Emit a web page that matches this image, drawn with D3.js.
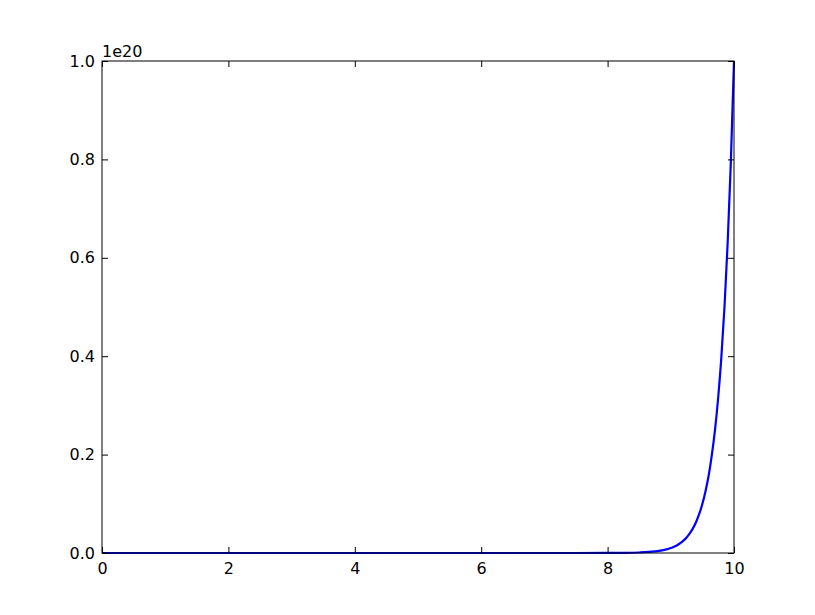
<!DOCTYPE html>
<html><head><meta charset="utf-8">
<script src="https://cdn.jsdelivr.net/npm/d3@7"></script>
<style>body{margin:0;background:#fff}svg{display:block}text{font-family:"DejaVu Sans",sans-serif;font-size:16px;fill:#000}</style>
</head><body>
<script>
// x values and y values (units of 1e20)
const xs = [0,1,2,3,4,5,6,7,8,8.25,8.5,8.75,8.9,9,9.05,9.1,9.15,9.2,9.25,9.3,9.35,9.4,9.45,9.5,9.55,9.6,9.65,9.7,9.75,9.8,9.85,9.9,9.95,10];
const ys = [0,0,0,0,0,0,0,0,0.0001,0.0003,0.001,0.0032,0.0063,0.01,0.0126,0.0158,0.02,0.0251,0.0316,0.0398,0.05,0.0631,0.0794,0.1,0.126,0.158,0.2,0.251,0.316,0.398,0.501,0.631,0.794,1.0];
const xTicks = [0,2,4,6,8,10];
const yTicks = [0.0,0.2,0.4,0.6,0.8,1.0];
const offsetLabel = "1e20";

const W=815,H=615, L=102,R=734,T=61,B=553;
const svg=d3.select("body").append("svg").attr("width",W).attr("height",H);
const x=d3.scaleLinear().domain([0,10]).range([L,R]);
const y=d3.scaleLinear().domain([0,1]).range([B,T]);

const line=d3.line().x((d,i)=>x(xs[i])).y((d,i)=>y(ys[i])).curve(d3.curveMonotoneX);
svg.append("defs").append("clipPath").attr("id","c").append("rect").attr("x",L).attr("y",T-2).attr("width",R-L+2).attr("height",B-T+4);
svg.append("path").datum(ys).attr("d",line).attr("fill","none").attr("stroke","#0000ff").attr("stroke-width",2.2).attr("clip-path","url(#c)");

const tl=6;
// bottom axis
const gb=svg.append("g").attr("transform",`translate(0,${B})`).call(d3.axisBottom(x).tickValues(xTicks).tickFormat(d3.format("d")).tickSizeInner(-tl).tickSizeOuter(0).tickPadding(10));
const gt=svg.append("g").attr("transform",`translate(0,${T})`).call(d3.axisTop(x).tickValues(xTicks).tickFormat("").tickSizeInner(-tl).tickSizeOuter(0));
const gl=svg.append("g").attr("transform",`translate(${L},0)`).call(d3.axisLeft(y).tickValues(yTicks).tickFormat(d3.format(".1f")).tickSizeInner(-tl).tickSizeOuter(0).tickPadding(7));
const gr=svg.append("g").attr("transform",`translate(${R},0)`).call(d3.axisRight(y).tickValues(yTicks).tickFormat("").tickSizeInner(-tl).tickSizeOuter(0));
[gb,gt,gl,gr].forEach(g=>{g.select(".domain").remove();g.selectAll("line").attr("stroke","#000");g.selectAll("text").attr("font-family","DejaVu Sans").attr("font-size",16).attr("fill","#000");});
gb.selectAll("text").attr("dy","0.71em");
svg.append("rect").attr("x",L).attr("y",T).attr("width",R-L).attr("height",B-T).attr("fill","none").attr("stroke","#000").attr("stroke-width",1);
svg.append("text").attr("x",L).attr("y",T-4).text(offsetLabel);
</script>
</body></html>
